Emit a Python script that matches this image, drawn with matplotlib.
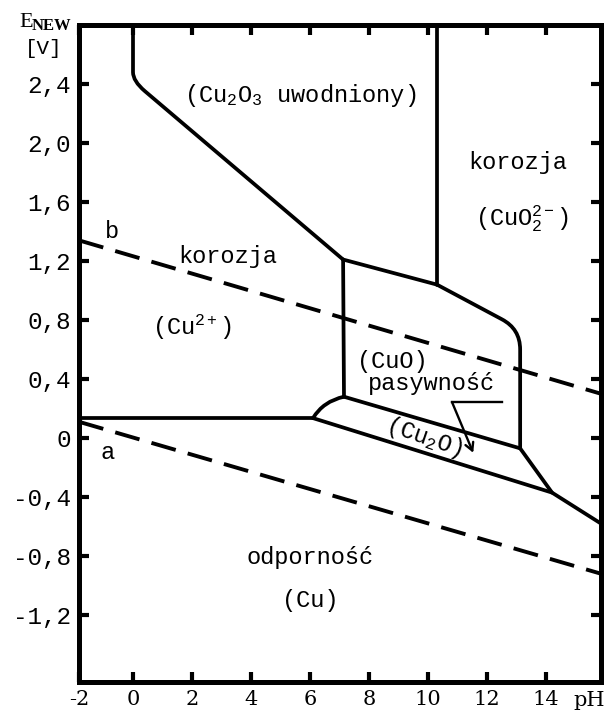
import matplotlib
matplotlib.use("Agg")
import matplotlib.pyplot as plt
from matplotlib.path import Path
from matplotlib.patches import PathPatch

plt.rcParams['font.family'] = ['Liberation Mono', 'DejaVu Sans Mono']
plt.rcParams['mathtext.fontset'] = 'custom'
plt.rcParams['mathtext.rm'] = 'Liberation Mono'
plt.rcParams['mathtext.it'] = 'Liberation Mono'

# axis ranges (pH, E in volts)
ph_min, ph_max = -1.83, 15.86
e_min, e_max = -1.654, 2.80

x_ticks = [ph_min, 0, 2, 4, 6, 8, 10, 12, 14]
x_labels = ['-2', '0', '2', '4', '6', '8', '10', '12', '14']
y_ticks = [2.4, 2.0, 1.6, 1.2, 0.8, 0.4, 0.0, -0.4, -0.8, -1.2]
y_labels = ['2,4', '2,0', '1,6', '1,2', '0,8', '0,4', '0', '-0,4', '-0,8', '-1,2']

# Cu / Cu2+ boundary
cu_cu2_ph = [ph_min, 6.1]
cu_cu2_e = [0.135, 0.135]
# Cu2+ / CuO boundary
cu2_cuo_ph = [7.15, 7.12]
cu2_cuo_e = [0.28, 1.21]
# Cu2+ / CuO curved join at the bottom (start, control, end)
cu2_cu2o_ph = [6.1, 6.45, 7.15]
cu2_cu2o_e = [0.135, 0.25, 0.28]
# Cu2O3 boundary: vertical part, rounded corner, diagonal
cu2o3_ph = [0.0, 0.0, 0.0, 0.4, 7.12]
cu2o3_e = [e_max, 2.48, 2.42, 2.352, 1.21]
# upper edge of CuO field with rounded corner
cuo_top_ph = [7.12, 10.3, 12.5, 13.12, 13.12, 13.12]
cuo_top_e = [1.21, 1.04, 0.805, 0.74, 0.60, -0.07]
# Cu2O3 / CuO2(2-) boundary
cuo2_ph = [10.3, 10.3]
cuo2_e = [1.04, e_max]
# CuO / Cu2O boundary
cuo_cu2o_ph = [7.15, 13.12]
cuo_cu2o_e = [0.28, -0.07]
# Cu2O / Cu boundary
cu2o_cu_ph = [6.1, 14.2]
cu2o_cu_e = [0.135, -0.37]
# right hand edges
right_ph = [13.12, 14.2, ph_max]
right_e = [-0.07, -0.37, -0.58]

# water stability lines
b_ph = [ph_min, ph_max]
b_e = [1.34, 0.30]
a_ph = [ph_min, ph_max]
a_e = [0.11, -0.92]

fig = plt.figure(figsize=(6.07, 7.14), dpi=100)
ax = fig.add_axes([79 / 607, 1 - 682 / 714, (601 - 79) / 607, (682 - 25) / 714])

lw = 2.7
kw = dict(color='black', lw=lw, solid_capstyle='round', solid_joinstyle='round')

ax.plot(cu_cu2_ph, cu_cu2_e, **kw)
ax.plot(cu2_cuo_ph, cu2_cuo_e, **kw)
ax.plot(cuo2_ph, cuo2_e, **kw)
ax.plot(cuo_cu2o_ph, cuo_cu2o_e, **kw)
ax.plot(cu2o_cu_ph, cu2o_cu_e, **kw)
ax.plot(right_ph, right_e, **kw)


def curved(phs, es, codes):
    path = Path(list(zip(phs, es)), codes)
    ax.add_patch(PathPatch(path, fill=False, lw=lw, ec='black', capstyle='round', joinstyle='round'))


curved(cu2_cu2o_ph, cu2_cu2o_e, [Path.MOVETO, Path.CURVE3, Path.CURVE3])
curved(cu2o3_ph, cu2o3_e,
       [Path.MOVETO, Path.LINETO, Path.CURVE3, Path.CURVE3, Path.LINETO])
curved(cuo_top_ph, cuo_top_e,
       [Path.MOVETO, Path.LINETO, Path.LINETO, Path.CURVE3, Path.CURVE3, Path.LINETO])

ax.plot(b_ph, b_e, color='black', lw=2.8, dashes=(6.5, 3.2))
ax.plot(a_ph, a_e, color='black', lw=2.8, dashes=(6.5, 3.2))

# arrow pointing at the Cu2O band
ax.plot([12.5, 10.81], [0.244, 0.244], color='black', lw=1.7)
ax.annotate('', xy=(11.53, -0.10), xytext=(10.81, 0.244),
            arrowprops=dict(arrowstyle='->,head_length=0.55,head_width=0.3',
                            color='black', lw=1.7, shrinkA=0, shrinkB=0))

fs = 17
ax.text(5.66, 2.32, '(Cu$_2$O$_3$ uwodniony)', fontsize=fs, ha='center', va='center')
ax.text(3.2, 1.23, 'korozja', fontsize=fs, ha='center', va='center')
ax.text(2.0, 0.75, '(Cu$^{2+}$)', fontsize=fs, ha='center', va='center')
ax.text(13.03, 1.87, 'korozja', fontsize=fs, ha='center', va='center')
ax.text(13.19, 1.49, '(CuO$_2^{2-}$)', fontsize=fs, ha='center', va='center')
ax.text(8.8, 0.52, '(CuO)', fontsize=fs, ha='center', va='center')
ax.text(10.1, 0.37, 'pasywność', fontsize=fs, ha='center', va='center')
ax.text(9.86, 0.007, '(Cu$_2$O)', fontsize=fs, ha='center', va='center',
        rotation=-19, rotation_mode='anchor')
ax.text(6.0, -0.81, 'odporność', fontsize=fs, ha='center', va='center')
ax.text(6.0, -1.10, '(Cu)', fontsize=fs, ha='center', va='center')
ax.text(-0.71, 1.40, 'b', fontsize=fs, ha='center', va='center')
ax.text(-0.85, -0.095, 'a', fontsize=fs, ha='center', va='center')

ax.set_xlim(ph_min, ph_max)
ax.set_ylim(e_min, e_max)
ax.set_xticks(x_ticks, x_labels, family='DejaVu Serif', fontsize=15)
ax.set_yticks(y_ticks, y_labels, fontsize=17.5)
ax.tick_params(axis='both', direction='in', length=7.5, width=3,
               top=True, right=True)
ax.tick_params(axis='x', pad=6)
ax.tick_params(axis='y', pad=6)
for s in ax.spines.values():
    s.set_linewidth(3.6)

# axis titles
fig.text(33 / 607, 1 - 27 / 714, 'E', family='Liberation Serif', fontsize=16,
         ha='right', va='baseline')
fig.text(32 / 607, 1 - 30 / 714, 'NEW', family='Liberation Serif', fontsize=12,
         weight='bold', ha='left', va='baseline')
fig.text(44 / 607, 1 - 48 / 714, '[V]', fontsize=15, ha='center', va='center')
fig.text(589 / 607, 1 - 706 / 714, 'pH', family='DejaVu Serif', fontsize=15,
         ha='center', va='baseline')

fig.savefig('out.png', dpi=100)
